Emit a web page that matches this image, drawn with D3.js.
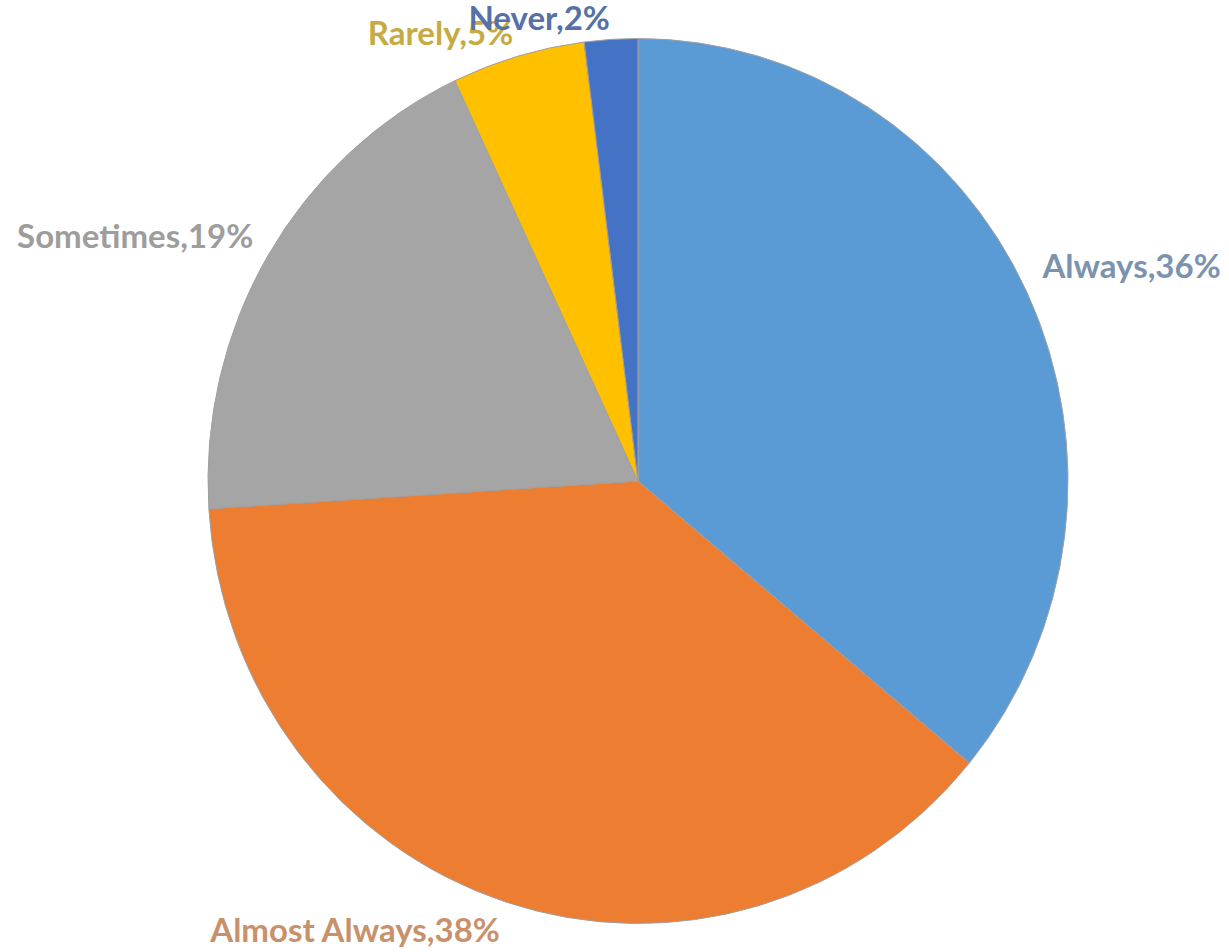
<!DOCTYPE html>
<html><head><meta charset="utf-8">
<script src="https://cdn.jsdelivr.net/npm/d3@7"></script>
<style>html,body{margin:0;padding:0;background:#fff;overflow:hidden}</style>
</head><body>
<svg id="chart" width="1229" height="952"></svg>
<script>
const categories = ["Always", "Almost Always", "Sometimes", "Rarely", "Never"];
const values = [36, 38, 19, 5, 2];
const sliceColors = ["#5B9BD5", "#ED7D31", "#A5A5A5", "#FFC000", "#4472C4"];
const labelColors = ["#7b93ae", "#c8916b", "#9d9d9d", "#c6ab45", "#5571a6"];
const labelNudgeY = [-7, 24, 1, 6, 8];

const W = 1229, H = 952;
const cx = 638, cy = 481, R = 430, sy = 1.029;
const svg = d3.select("#chart");
const data = categories.map((c, i) => ({ cat: c, value: values[i], i }));
const pie = d3.pie().value(d => d.value).sort(null);
const arcs = pie(data);
const arc = d3.arc().innerRadius(0).outerRadius(R);

const g = svg.append("g").attr("transform", `translate(${cx},${cy}) scale(1,${sy})`);
g.selectAll("path").data(arcs).join("path")
  .attr("d", arc)
  .attr("fill", d => sliceColors[d.data.i])
  .attr("stroke", "#a0a0a0")
  .attr("stroke-width", 1)
  .attr("vector-effect", "non-scaling-stroke");

const LR = 447;
const lg = svg.append("g");
lg.selectAll("text").data(arcs).join("text")
  .each(function(d) {
    const a = (d.startAngle + d.endAngle) / 2;
    const x = cx + LR * Math.sin(a);
    const y = cy - LR * Math.cos(a) * sy;
    d3.select(this)
      .attr("x", x)
      .attr("y", y + labelNudgeY[d.data.i])
      .attr("text-anchor", Math.sin(a) >= 0 ? "start" : "end");
  })
  .attr("font-family", "Lato, 'Open Sans', sans-serif")
  .attr("font-weight", "bold")
  .attr("font-size", 33)
  .attr("fill", d => labelColors[d.data.i])
  .text(d => `${d.data.cat},${d.data.value}%`);
</script>
</body></html>
